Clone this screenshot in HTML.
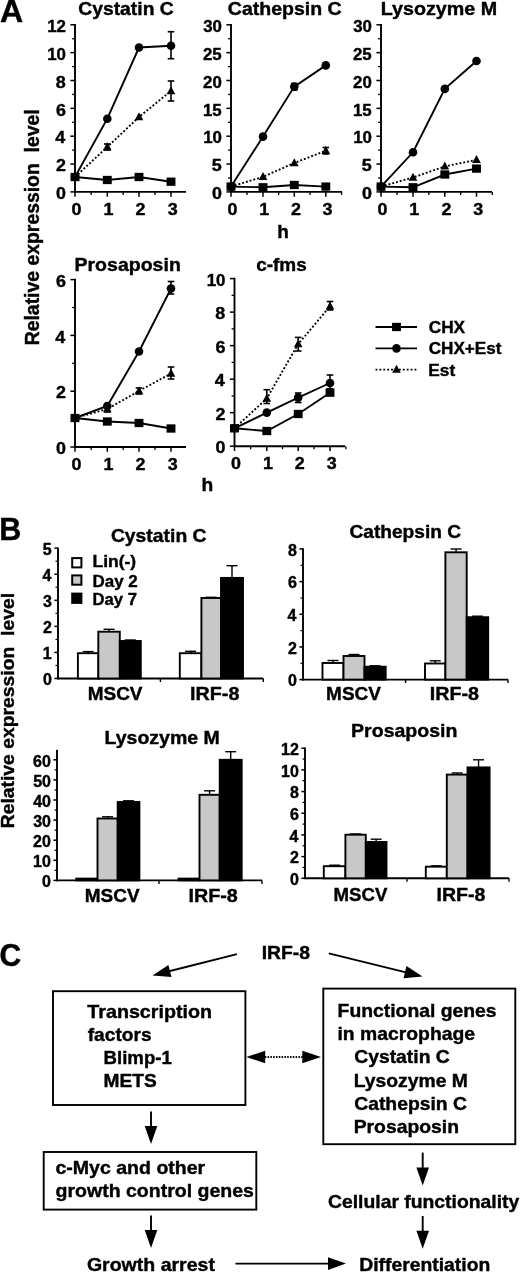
<!DOCTYPE html>
<html><head><meta charset="utf-8"><title>Figure</title>
<style>html,body{margin:0;padding:0;background:#fff}svg{display:block}text{fill:#000;stroke:#000;stroke-width:0.4px;font-family:"Liberation Sans",sans-serif;font-weight:bold}</style></head><body>
<svg width="520" height="1273" viewBox="0 0 520 1273" >
<rect width="520" height="1273" fill="#fff"/>
<text transform="translate(0.1,22.2) scale(1.02,1)" font-size="31.5" >A</text>
<text transform="translate(-0.8,540.2) scale(0.97,1)" font-size="31.5" >B</text>
<text transform="translate(-0.6,966.4) scale(0.94,1)" font-size="32" >C</text>
<line x1="75" y1="24.0" x2="75" y2="192.7" stroke="#000" stroke-width="1.9" />
<line x1="74.2" y1="191.9" x2="186" y2="191.9" stroke="#000" stroke-width="1.9" />
<line x1="70.4" y1="191.9" x2="75" y2="191.9" stroke="#000" stroke-width="1.5" />
<text transform="translate(56.0,199.1) scale(1.03,1)" font-size="17.4" >0</text>
<line x1="72.1" y1="177.97" x2="75" y2="177.97" stroke="#000" stroke-width="1.3" />
<line x1="70.4" y1="164.05" x2="75" y2="164.05" stroke="#000" stroke-width="1.5" />
<text transform="translate(56.0,171.2) scale(1.03,1)" font-size="17.4" >2</text>
<line x1="72.1" y1="150.12" x2="75" y2="150.12" stroke="#000" stroke-width="1.3" />
<line x1="70.4" y1="136.2" x2="75" y2="136.2" stroke="#000" stroke-width="1.5" />
<text transform="translate(55.3,143.4) scale(1.03,1)" font-size="17.4" >4</text>
<line x1="72.1" y1="122.28" x2="75" y2="122.28" stroke="#000" stroke-width="1.3" />
<line x1="70.4" y1="108.35" x2="75" y2="108.35" stroke="#000" stroke-width="1.5" />
<text transform="translate(55.9,115.6) scale(1.03,1)" font-size="17.4" >6</text>
<line x1="72.1" y1="94.43" x2="75" y2="94.43" stroke="#000" stroke-width="1.3" />
<line x1="70.4" y1="80.5" x2="75" y2="80.5" stroke="#000" stroke-width="1.5" />
<text transform="translate(55.8,87.7) scale(1.03,1)" font-size="17.4" >8</text>
<line x1="72.1" y1="66.58" x2="75" y2="66.58" stroke="#000" stroke-width="1.3" />
<line x1="70.4" y1="52.65" x2="75" y2="52.65" stroke="#000" stroke-width="1.5" />
<text transform="translate(47.2,59.9) scale(0.97,1)" font-size="17.4" >10</text>
<line x1="72.1" y1="38.73" x2="75" y2="38.73" stroke="#000" stroke-width="1.3" />
<line x1="70.4" y1="24.8" x2="75" y2="24.8" stroke="#000" stroke-width="1.5" />
<text transform="translate(47.2,32.0) scale(0.97,1)" font-size="17.4" >12</text>
<line x1="75" y1="191.9" x2="75" y2="196.7" stroke="#000" stroke-width="1.5" />
<text transform="translate(71.5,214.9) scale(1.03,1)" font-size="17.4" >0</text>
<line x1="91.15" y1="191.9" x2="91.15" y2="194.9" stroke="#000" stroke-width="1.3" />
<line x1="107.3" y1="191.9" x2="107.3" y2="196.7" stroke="#000" stroke-width="1.5" />
<text transform="translate(103.5,214.9) scale(1.03,1)" font-size="17.4" >1</text>
<line x1="123.15" y1="191.9" x2="123.15" y2="194.9" stroke="#000" stroke-width="1.3" />
<line x1="139" y1="191.9" x2="139" y2="196.7" stroke="#000" stroke-width="1.5" />
<text transform="translate(135.6,214.9) scale(1.03,1)" font-size="17.4" >2</text>
<line x1="155.0" y1="191.9" x2="155.0" y2="194.9" stroke="#000" stroke-width="1.3" />
<line x1="171" y1="191.9" x2="171" y2="196.7" stroke="#000" stroke-width="1.5" />
<text transform="translate(167.7,214.9) scale(1.03,1)" font-size="17.4" >3</text>
<text transform="translate(78.2,15.2) scale(1.04,1)" font-size="18.6" >Cystatin C</text>
<polyline points="75,177 107.3,147 139,117 171,91" fill="none" stroke="#000" stroke-width="1.9" stroke-dasharray="1.9 2"/>
<line x1="107.3" y1="144" x2="107.3" y2="150" stroke="#000" stroke-width="1.6" />
<line x1="104.0" y1="144" x2="110.6" y2="144" stroke="#000" stroke-width="1.6" />
<line x1="104.0" y1="150" x2="110.6" y2="150" stroke="#000" stroke-width="1.6" />
<line x1="171" y1="81" x2="171" y2="101" stroke="#000" stroke-width="1.6" />
<line x1="167.7" y1="81" x2="174.3" y2="81" stroke="#000" stroke-width="1.6" />
<line x1="167.7" y1="101" x2="174.3" y2="101" stroke="#000" stroke-width="1.6" />
<polygon points="75,172.2 79.3,180.2 70.7,180.2" fill="#000"/>
<polygon points="107.3,142.2 111.6,150.2 103.0,150.2" fill="#000"/>
<polygon points="139,112.2 143.3,120.2 134.7,120.2" fill="#000"/>
<polygon points="171,86.2 175.3,94.2 166.7,94.2" fill="#000"/>
<polyline points="75,177 107.3,180 139,177 171,181.7" fill="none" stroke="#000" stroke-width="1.9"/>
<rect x="70.55" y="172.85" width="8.9" height="8.3" fill="#000"/>
<rect x="102.85" y="175.85" width="8.9" height="8.3" fill="#000"/>
<rect x="134.55" y="172.85" width="8.9" height="8.3" fill="#000"/>
<rect x="166.55" y="177.55" width="8.9" height="8.3" fill="#000"/>
<polyline points="75,177 107.3,118.7 139,47.5 171,45.7" fill="none" stroke="#000" stroke-width="1.9"/>
<line x1="171" y1="31.7" x2="171" y2="58.7" stroke="#000" stroke-width="1.6" />
<line x1="167.7" y1="31.7" x2="174.3" y2="31.7" stroke="#000" stroke-width="1.6" />
<line x1="167.7" y1="58.7" x2="174.3" y2="58.7" stroke="#000" stroke-width="1.6" />
<circle cx="75" cy="177" r="4.3" fill="#000"/>
<circle cx="107.3" cy="118.7" r="4.3" fill="#000"/>
<circle cx="139" cy="47.5" r="4.3" fill="#000"/>
<circle cx="171" cy="45.7" r="4.3" fill="#000"/>
<line x1="231" y1="24.0" x2="231" y2="192.7" stroke="#000" stroke-width="1.9" />
<line x1="230.2" y1="191.9" x2="342" y2="191.9" stroke="#000" stroke-width="1.9" />
<line x1="226.4" y1="191.9" x2="231" y2="191.9" stroke="#000" stroke-width="1.5" />
<text transform="translate(212.0,199.1) scale(1.03,1)" font-size="17.4" >0</text>
<line x1="228.1" y1="177.97" x2="231" y2="177.97" stroke="#000" stroke-width="1.3" />
<line x1="226.4" y1="164.05" x2="231" y2="164.05" stroke="#000" stroke-width="1.5" />
<text transform="translate(211.7,171.2) scale(1.03,1)" font-size="17.4" >5</text>
<line x1="228.1" y1="150.12" x2="231" y2="150.12" stroke="#000" stroke-width="1.3" />
<line x1="226.4" y1="136.2" x2="231" y2="136.2" stroke="#000" stroke-width="1.5" />
<text transform="translate(203.2,143.4) scale(0.97,1)" font-size="17.4" >10</text>
<line x1="228.1" y1="122.28" x2="231" y2="122.28" stroke="#000" stroke-width="1.3" />
<line x1="226.4" y1="108.35" x2="231" y2="108.35" stroke="#000" stroke-width="1.5" />
<text transform="translate(202.9,115.6) scale(0.97,1)" font-size="17.4" >15</text>
<line x1="228.1" y1="94.43" x2="231" y2="94.43" stroke="#000" stroke-width="1.3" />
<line x1="226.4" y1="80.5" x2="231" y2="80.5" stroke="#000" stroke-width="1.5" />
<text transform="translate(203.1,87.7) scale(0.97,1)" font-size="17.4" >20</text>
<line x1="228.1" y1="66.58" x2="231" y2="66.58" stroke="#000" stroke-width="1.3" />
<line x1="226.4" y1="52.65" x2="231" y2="52.65" stroke="#000" stroke-width="1.5" />
<text transform="translate(202.9,59.9) scale(0.97,1)" font-size="17.4" >25</text>
<line x1="228.1" y1="38.73" x2="231" y2="38.73" stroke="#000" stroke-width="1.3" />
<line x1="226.4" y1="24.8" x2="231" y2="24.8" stroke="#000" stroke-width="1.5" />
<text transform="translate(203.2,32.0) scale(0.97,1)" font-size="17.4" >30</text>
<line x1="231" y1="191.9" x2="231" y2="196.7" stroke="#000" stroke-width="1.5" />
<text transform="translate(227.5,214.9) scale(1.03,1)" font-size="17.4" >0</text>
<line x1="247.0" y1="191.9" x2="247.0" y2="194.9" stroke="#000" stroke-width="1.3" />
<line x1="263" y1="191.9" x2="263" y2="196.7" stroke="#000" stroke-width="1.5" />
<text transform="translate(259.2,214.9) scale(1.03,1)" font-size="17.4" >1</text>
<line x1="278.65" y1="191.9" x2="278.65" y2="194.9" stroke="#000" stroke-width="1.3" />
<line x1="294.3" y1="191.9" x2="294.3" y2="196.7" stroke="#000" stroke-width="1.5" />
<text transform="translate(290.9,214.9) scale(1.03,1)" font-size="17.4" >2</text>
<line x1="310.05" y1="191.9" x2="310.05" y2="194.9" stroke="#000" stroke-width="1.3" />
<line x1="325.8" y1="191.9" x2="325.8" y2="196.7" stroke="#000" stroke-width="1.5" />
<text transform="translate(322.5,214.9) scale(1.03,1)" font-size="17.4" >3</text>
<line x1="341.55" y1="191.9" x2="341.55" y2="194.9" stroke="#000" stroke-width="1.3" />
<text transform="translate(227.8,15.2) scale(1.05,1)" font-size="18.6" >Cathepsin C</text>
<polyline points="231,186.6 263,176.8 294.3,163 325.8,150.7" fill="none" stroke="#000" stroke-width="1.9" stroke-dasharray="1.9 2"/>
<line x1="325.8" y1="147.5" x2="325.8" y2="154" stroke="#000" stroke-width="1.6" />
<line x1="322.5" y1="147.5" x2="329.1" y2="147.5" stroke="#000" stroke-width="1.6" />
<line x1="322.5" y1="154" x2="329.1" y2="154" stroke="#000" stroke-width="1.6" />
<polygon points="231,181.8 235.3,189.8 226.7,189.8" fill="#000"/>
<polygon points="263,172.0 267.3,180.0 258.7,180.0" fill="#000"/>
<polygon points="294.3,158.2 298.6,166.2 290.0,166.2" fill="#000"/>
<polygon points="325.8,145.9 330.1,153.9 321.5,153.9" fill="#000"/>
<polyline points="231,186.6 263,187.3 294.3,185 325.8,186.6" fill="none" stroke="#000" stroke-width="1.9"/>
<rect x="226.55" y="182.45" width="8.9" height="8.3" fill="#000"/>
<rect x="258.55" y="183.15" width="8.9" height="8.3" fill="#000"/>
<rect x="289.85" y="180.85" width="8.9" height="8.3" fill="#000"/>
<rect x="321.35" y="182.45" width="8.9" height="8.3" fill="#000"/>
<polyline points="231,186.6 263,136.6 294.3,86.6 325.8,65.4" fill="none" stroke="#000" stroke-width="1.9"/>
<line x1="294.3" y1="83.5" x2="294.3" y2="90" stroke="#000" stroke-width="1.6" />
<line x1="291.0" y1="83.5" x2="297.6" y2="83.5" stroke="#000" stroke-width="1.6" />
<line x1="291.0" y1="90" x2="297.6" y2="90" stroke="#000" stroke-width="1.6" />
<circle cx="231" cy="186.6" r="4.3" fill="#000"/>
<circle cx="263" cy="136.6" r="4.3" fill="#000"/>
<circle cx="294.3" cy="86.6" r="4.3" fill="#000"/>
<circle cx="325.8" cy="65.4" r="4.3" fill="#000"/>
<line x1="381" y1="24.0" x2="381" y2="192.7" stroke="#000" stroke-width="1.9" />
<line x1="380.2" y1="191.9" x2="492" y2="191.9" stroke="#000" stroke-width="1.9" />
<line x1="376.4" y1="191.9" x2="381" y2="191.9" stroke="#000" stroke-width="1.5" />
<text transform="translate(362.0,199.1) scale(1.03,1)" font-size="17.4" >0</text>
<line x1="378.1" y1="177.97" x2="381" y2="177.97" stroke="#000" stroke-width="1.3" />
<line x1="376.4" y1="164.05" x2="381" y2="164.05" stroke="#000" stroke-width="1.5" />
<text transform="translate(361.7,171.2) scale(1.03,1)" font-size="17.4" >5</text>
<line x1="378.1" y1="150.12" x2="381" y2="150.12" stroke="#000" stroke-width="1.3" />
<line x1="376.4" y1="136.2" x2="381" y2="136.2" stroke="#000" stroke-width="1.5" />
<text transform="translate(353.2,143.4) scale(0.97,1)" font-size="17.4" >10</text>
<line x1="378.1" y1="122.28" x2="381" y2="122.28" stroke="#000" stroke-width="1.3" />
<line x1="376.4" y1="108.35" x2="381" y2="108.35" stroke="#000" stroke-width="1.5" />
<text transform="translate(352.9,115.6) scale(0.97,1)" font-size="17.4" >15</text>
<line x1="378.1" y1="94.43" x2="381" y2="94.43" stroke="#000" stroke-width="1.3" />
<line x1="376.4" y1="80.5" x2="381" y2="80.5" stroke="#000" stroke-width="1.5" />
<text transform="translate(353.1,87.7) scale(0.97,1)" font-size="17.4" >20</text>
<line x1="378.1" y1="66.58" x2="381" y2="66.58" stroke="#000" stroke-width="1.3" />
<line x1="376.4" y1="52.65" x2="381" y2="52.65" stroke="#000" stroke-width="1.5" />
<text transform="translate(352.9,59.9) scale(0.97,1)" font-size="17.4" >25</text>
<line x1="378.1" y1="38.73" x2="381" y2="38.73" stroke="#000" stroke-width="1.3" />
<line x1="376.4" y1="24.8" x2="381" y2="24.8" stroke="#000" stroke-width="1.5" />
<text transform="translate(353.2,32.0) scale(0.97,1)" font-size="17.4" >30</text>
<line x1="381" y1="191.9" x2="381" y2="196.7" stroke="#000" stroke-width="1.5" />
<text transform="translate(377.5,214.9) scale(1.03,1)" font-size="17.4" >0</text>
<line x1="397.0" y1="191.9" x2="397.0" y2="194.9" stroke="#000" stroke-width="1.3" />
<line x1="413" y1="191.9" x2="413" y2="196.7" stroke="#000" stroke-width="1.5" />
<text transform="translate(409.2,214.9) scale(1.03,1)" font-size="17.4" >1</text>
<line x1="428.9" y1="191.9" x2="428.9" y2="194.9" stroke="#000" stroke-width="1.3" />
<line x1="444.8" y1="191.9" x2="444.8" y2="196.7" stroke="#000" stroke-width="1.5" />
<text transform="translate(441.4,214.9) scale(1.03,1)" font-size="17.4" >2</text>
<line x1="460.65" y1="191.9" x2="460.65" y2="194.9" stroke="#000" stroke-width="1.3" />
<line x1="476.5" y1="191.9" x2="476.5" y2="196.7" stroke="#000" stroke-width="1.5" />
<text transform="translate(473.2,214.9) scale(1.03,1)" font-size="17.4" >3</text>
<line x1="492.35" y1="191.9" x2="492.35" y2="194.9" stroke="#000" stroke-width="1.3" />
<text transform="translate(380.7,15.2) scale(1.06,1)" font-size="18.6" >Lysozyme M</text>
<polyline points="381,186.6 413,187.3 444.8,174.5 476.5,168.6" fill="none" stroke="#000" stroke-width="1.9"/>
<rect x="376.55" y="182.45" width="8.9" height="8.3" fill="#000"/>
<rect x="408.55" y="183.15" width="8.9" height="8.3" fill="#000"/>
<rect x="440.35" y="170.35" width="8.9" height="8.3" fill="#000"/>
<rect x="472.05" y="164.45" width="8.9" height="8.3" fill="#000"/>
<polyline points="381,186.6 413,177.5 444.8,166.4 476.5,159.8" fill="none" stroke="#000" stroke-width="1.9" stroke-dasharray="1.9 2"/>
<polygon points="381,181.8 385.3,189.8 376.7,189.8" fill="#000"/>
<polygon points="413,172.7 417.3,180.7 408.7,180.7" fill="#000"/>
<polygon points="444.8,161.6 449.1,169.6 440.5,169.6" fill="#000"/>
<polygon points="476.5,155.0 480.8,163.0 472.2,163.0" fill="#000"/>
<polyline points="381,186.6 413,152.3 444.8,88.9 476.5,61" fill="none" stroke="#000" stroke-width="1.9"/>
<circle cx="381" cy="186.6" r="4.3" fill="#000"/>
<circle cx="413" cy="152.3" r="4.3" fill="#000"/>
<circle cx="444.8" cy="88.9" r="4.3" fill="#000"/>
<circle cx="476.5" cy="61" r="4.3" fill="#000"/>
<text transform="translate(277.3,237.6) scale(0.99,1)" font-size="19.2" >h</text>
<line x1="75" y1="278.8" x2="75" y2="447.8" stroke="#000" stroke-width="1.9" />
<line x1="74.2" y1="447" x2="186" y2="447" stroke="#000" stroke-width="1.9" />
<line x1="70.4" y1="447.0" x2="75" y2="447.0" stroke="#000" stroke-width="1.5" />
<text transform="translate(56.0,454.2) scale(1.03,1)" font-size="17.4" >0</text>
<line x1="72.1" y1="419.1" x2="75" y2="419.1" stroke="#000" stroke-width="1.3" />
<line x1="70.4" y1="391.2" x2="75" y2="391.2" stroke="#000" stroke-width="1.5" />
<text transform="translate(56.0,398.4) scale(1.03,1)" font-size="17.4" >2</text>
<line x1="72.1" y1="363.3" x2="75" y2="363.3" stroke="#000" stroke-width="1.3" />
<line x1="70.4" y1="335.4" x2="75" y2="335.4" stroke="#000" stroke-width="1.5" />
<text transform="translate(55.3,342.6) scale(1.03,1)" font-size="17.4" >4</text>
<line x1="72.1" y1="307.5" x2="75" y2="307.5" stroke="#000" stroke-width="1.3" />
<line x1="70.4" y1="279.6" x2="75" y2="279.6" stroke="#000" stroke-width="1.5" />
<text transform="translate(55.9,286.8) scale(1.03,1)" font-size="17.4" >6</text>
<line x1="75" y1="447" x2="75" y2="451.8" stroke="#000" stroke-width="1.5" />
<text transform="translate(71.5,470) scale(1.03,1)" font-size="17.4" >0</text>
<line x1="91.15" y1="447" x2="91.15" y2="450" stroke="#000" stroke-width="1.3" />
<line x1="107.3" y1="447" x2="107.3" y2="451.8" stroke="#000" stroke-width="1.5" />
<text transform="translate(103.5,470) scale(1.03,1)" font-size="17.4" >1</text>
<line x1="123.15" y1="447" x2="123.15" y2="450" stroke="#000" stroke-width="1.3" />
<line x1="139" y1="447" x2="139" y2="451.8" stroke="#000" stroke-width="1.5" />
<text transform="translate(135.6,470) scale(1.03,1)" font-size="17.4" >2</text>
<line x1="155.0" y1="447" x2="155.0" y2="450" stroke="#000" stroke-width="1.3" />
<line x1="171" y1="447" x2="171" y2="451.8" stroke="#000" stroke-width="1.5" />
<text transform="translate(167.7,470) scale(1.03,1)" font-size="17.4" >3</text>
<text transform="translate(74.5,270.8) scale(1.05,1)" font-size="18.6" >Prosaposin</text>
<polyline points="75,418 107.3,409 139,391 171,373.5" fill="none" stroke="#000" stroke-width="1.9" stroke-dasharray="1.9 2"/>
<line x1="107.3" y1="406" x2="107.3" y2="412" stroke="#000" stroke-width="1.6" />
<line x1="104.0" y1="406" x2="110.6" y2="406" stroke="#000" stroke-width="1.6" />
<line x1="104.0" y1="412" x2="110.6" y2="412" stroke="#000" stroke-width="1.6" />
<line x1="139" y1="388" x2="139" y2="394" stroke="#000" stroke-width="1.6" />
<line x1="135.7" y1="388" x2="142.3" y2="388" stroke="#000" stroke-width="1.6" />
<line x1="135.7" y1="394" x2="142.3" y2="394" stroke="#000" stroke-width="1.6" />
<line x1="171" y1="367" x2="171" y2="379" stroke="#000" stroke-width="1.6" />
<line x1="167.7" y1="367" x2="174.3" y2="367" stroke="#000" stroke-width="1.6" />
<line x1="167.7" y1="379" x2="174.3" y2="379" stroke="#000" stroke-width="1.6" />
<polygon points="75,413.2 79.3,421.2 70.7,421.2" fill="#000"/>
<polygon points="107.3,404.2 111.6,412.2 103.0,412.2" fill="#000"/>
<polygon points="139,386.2 143.3,394.2 134.7,394.2" fill="#000"/>
<polygon points="171,368.7 175.3,376.7 166.7,376.7" fill="#000"/>
<polyline points="75,418 107.3,421.5 139,423 171,428.5" fill="none" stroke="#000" stroke-width="1.9"/>
<rect x="70.55" y="413.85" width="8.9" height="8.3" fill="#000"/>
<rect x="102.85" y="417.35" width="8.9" height="8.3" fill="#000"/>
<rect x="134.55" y="418.85" width="8.9" height="8.3" fill="#000"/>
<rect x="166.55" y="424.35" width="8.9" height="8.3" fill="#000"/>
<polyline points="75,418 107.3,406 139,351.5 171,288.5" fill="none" stroke="#000" stroke-width="1.9"/>
<line x1="171" y1="281.5" x2="171" y2="294" stroke="#000" stroke-width="1.6" />
<line x1="167.7" y1="281.5" x2="174.3" y2="281.5" stroke="#000" stroke-width="1.6" />
<line x1="167.7" y1="294" x2="174.3" y2="294" stroke="#000" stroke-width="1.6" />
<circle cx="75" cy="418" r="4.3" fill="#000"/>
<circle cx="107.3" cy="406" r="4.3" fill="#000"/>
<circle cx="139" cy="351.5" r="4.3" fill="#000"/>
<circle cx="171" cy="288.5" r="4.3" fill="#000"/>
<line x1="234.5" y1="277.8" x2="234.5" y2="447.0" stroke="#000" stroke-width="1.9" />
<line x1="233.7" y1="446.2" x2="345" y2="446.2" stroke="#000" stroke-width="1.9" />
<line x1="229.9" y1="446.2" x2="234.5" y2="446.2" stroke="#000" stroke-width="1.5" />
<text transform="translate(215.5,453.4) scale(1.03,1)" font-size="17.4" >0</text>
<line x1="231.6" y1="429.44" x2="234.5" y2="429.44" stroke="#000" stroke-width="1.3" />
<line x1="229.9" y1="412.68" x2="234.5" y2="412.68" stroke="#000" stroke-width="1.5" />
<text transform="translate(215.5,419.9) scale(1.03,1)" font-size="17.4" >2</text>
<line x1="231.6" y1="395.92" x2="234.5" y2="395.92" stroke="#000" stroke-width="1.3" />
<line x1="229.9" y1="379.16" x2="234.5" y2="379.16" stroke="#000" stroke-width="1.5" />
<text transform="translate(214.8,386.4) scale(1.03,1)" font-size="17.4" >4</text>
<line x1="231.6" y1="362.4" x2="234.5" y2="362.4" stroke="#000" stroke-width="1.3" />
<line x1="229.9" y1="345.64" x2="234.5" y2="345.64" stroke="#000" stroke-width="1.5" />
<text transform="translate(215.4,352.8) scale(1.03,1)" font-size="17.4" >6</text>
<line x1="231.6" y1="328.88" x2="234.5" y2="328.88" stroke="#000" stroke-width="1.3" />
<line x1="229.9" y1="312.12" x2="234.5" y2="312.12" stroke="#000" stroke-width="1.5" />
<text transform="translate(215.3,319.3) scale(1.03,1)" font-size="17.4" >8</text>
<line x1="231.6" y1="295.36" x2="234.5" y2="295.36" stroke="#000" stroke-width="1.3" />
<line x1="229.9" y1="278.6" x2="234.5" y2="278.6" stroke="#000" stroke-width="1.5" />
<text transform="translate(206.7,285.8) scale(0.97,1)" font-size="17.4" >10</text>
<line x1="234.5" y1="446.2" x2="234.5" y2="451.0" stroke="#000" stroke-width="1.5" />
<text transform="translate(231.0,469.2) scale(1.03,1)" font-size="17.4" >0</text>
<line x1="250.65" y1="446.2" x2="250.65" y2="449.2" stroke="#000" stroke-width="1.3" />
<line x1="266.8" y1="446.2" x2="266.8" y2="451.0" stroke="#000" stroke-width="1.5" />
<text transform="translate(263.0,469.2) scale(1.03,1)" font-size="17.4" >1</text>
<line x1="282.5" y1="446.2" x2="282.5" y2="449.2" stroke="#000" stroke-width="1.3" />
<line x1="298.2" y1="446.2" x2="298.2" y2="451.0" stroke="#000" stroke-width="1.5" />
<text transform="translate(294.8,469.2) scale(1.03,1)" font-size="17.4" >2</text>
<line x1="314.1" y1="446.2" x2="314.1" y2="449.2" stroke="#000" stroke-width="1.3" />
<line x1="330" y1="446.2" x2="330" y2="451.0" stroke="#000" stroke-width="1.5" />
<text transform="translate(326.7,469.2) scale(1.03,1)" font-size="17.4" >3</text>
<line x1="345.9" y1="446.2" x2="345.9" y2="449.2" stroke="#000" stroke-width="1.3" />
<text transform="translate(256.2,270.5) scale(1.02,1)" font-size="18.6" >c-fms</text>
<polyline points="234.5,428.3 266.8,398.5 298.2,344 330,306.4" fill="none" stroke="#000" stroke-width="1.9" stroke-dasharray="1.9 2"/>
<line x1="266.8" y1="389.7" x2="266.8" y2="403.5" stroke="#000" stroke-width="1.6" />
<line x1="263.5" y1="389.7" x2="270.1" y2="389.7" stroke="#000" stroke-width="1.6" />
<line x1="263.5" y1="403.5" x2="270.1" y2="403.5" stroke="#000" stroke-width="1.6" />
<line x1="298.2" y1="337.4" x2="298.2" y2="351" stroke="#000" stroke-width="1.6" />
<line x1="294.9" y1="337.4" x2="301.5" y2="337.4" stroke="#000" stroke-width="1.6" />
<line x1="294.9" y1="351" x2="301.5" y2="351" stroke="#000" stroke-width="1.6" />
<line x1="330" y1="301.5" x2="330" y2="310" stroke="#000" stroke-width="1.6" />
<line x1="326.7" y1="301.5" x2="333.3" y2="301.5" stroke="#000" stroke-width="1.6" />
<line x1="326.7" y1="310" x2="333.3" y2="310" stroke="#000" stroke-width="1.6" />
<polygon points="234.5,423.5 238.8,431.5 230.2,431.5" fill="#000"/>
<polygon points="266.8,393.7 271.1,401.7 262.5,401.7" fill="#000"/>
<polygon points="298.2,339.2 302.5,347.2 293.9,347.2" fill="#000"/>
<polygon points="330,301.6 334.3,309.6 325.7,309.6" fill="#000"/>
<polyline points="234.5,428.3 266.8,431 298.2,414 330,392.7" fill="none" stroke="#000" stroke-width="1.9"/>
<rect x="230.05" y="424.15" width="8.9" height="8.3" fill="#000"/>
<rect x="262.35" y="426.85" width="8.9" height="8.3" fill="#000"/>
<rect x="293.75" y="409.85" width="8.9" height="8.3" fill="#000"/>
<rect x="325.55" y="388.55" width="8.9" height="8.3" fill="#000"/>
<polyline points="234.5,428.3 266.8,412.6 298.2,397.6 330,383" fill="none" stroke="#000" stroke-width="1.9"/>
<line x1="298.2" y1="393" x2="298.2" y2="402.5" stroke="#000" stroke-width="1.6" />
<line x1="294.9" y1="393" x2="301.5" y2="393" stroke="#000" stroke-width="1.6" />
<line x1="294.9" y1="402.5" x2="301.5" y2="402.5" stroke="#000" stroke-width="1.6" />
<line x1="330" y1="375" x2="330" y2="388.7" stroke="#000" stroke-width="1.6" />
<line x1="326.7" y1="375" x2="333.3" y2="375" stroke="#000" stroke-width="1.6" />
<line x1="326.7" y1="388.7" x2="333.3" y2="388.7" stroke="#000" stroke-width="1.6" />
<circle cx="234.5" cy="428.3" r="4.3" fill="#000"/>
<circle cx="266.8" cy="412.6" r="4.3" fill="#000"/>
<circle cx="298.2" cy="397.6" r="4.3" fill="#000"/>
<circle cx="330" cy="383" r="4.3" fill="#000"/>
<text x="201.6" y="490.7" font-size="19.2" >h</text>
<line x1="375.5" y1="327" x2="417" y2="327" stroke="#000" stroke-width="1.9"/>
<rect x="392.05" y="322.85" width="8.9" height="8.3" fill="#000"/>
<text transform="translate(428.7,332.9) scale(1.04,1)" font-size="16.6" >CHX</text>
<line x1="375.5" y1="348.4" x2="417" y2="348.4" stroke="#000" stroke-width="1.9"/>
<circle cx="396.5" cy="348.4" r="4.3" fill="#000"/>
<text transform="translate(428.7,354.3) scale(1.03,1)" font-size="16.6" >CHX+Est</text>
<line x1="375.5" y1="369.6" x2="417" y2="369.6" stroke="#000" stroke-width="1.9" stroke-dasharray="1.9 2"/>
<polygon points="396.5,364.8 400.8,372.8 392.2,372.8" fill="#000"/>
<text transform="translate(428.3,375.5) scale(1.04,1)" font-size="16.6" >Est</text>
<text transform="translate(38.6,345.3) rotate(-90) scale(0.97,1)" font-size="20" xml:space="preserve">Relative expression  level</text>
<text transform="translate(14.4,828.3) rotate(-90) scale(1.04,1)" font-size="18.6" xml:space="preserve">Relative expression  level</text>
<line x1="58" y1="547.4" x2="58" y2="679.3" stroke="#000" stroke-width="1.9" />
<line x1="57.2" y1="678.5" x2="263.3" y2="678.5" stroke="#000" stroke-width="1.9" />
<line x1="54.4" y1="678.5" x2="58" y2="678.5" stroke="#000" stroke-width="1.5" />
<text x="43.1" y="685.3" font-size="16.0" >0</text>
<line x1="55.5" y1="665.47" x2="58" y2="665.47" stroke="#000" stroke-width="1.2" />
<line x1="54.4" y1="652.44" x2="58" y2="652.44" stroke="#000" stroke-width="1.5" />
<text x="42.8" y="659.2" font-size="16.0" >1</text>
<line x1="55.5" y1="639.41" x2="58" y2="639.41" stroke="#000" stroke-width="1.2" />
<line x1="54.4" y1="626.38" x2="58" y2="626.38" stroke="#000" stroke-width="1.5" />
<text x="43.0" y="633.2" font-size="16.0" >2</text>
<line x1="55.5" y1="613.35" x2="58" y2="613.35" stroke="#000" stroke-width="1.2" />
<line x1="54.4" y1="600.32" x2="58" y2="600.32" stroke="#000" stroke-width="1.5" />
<text x="43.0" y="607.1" font-size="16.0" >3</text>
<line x1="55.5" y1="587.29" x2="58" y2="587.29" stroke="#000" stroke-width="1.2" />
<line x1="54.4" y1="574.26" x2="58" y2="574.26" stroke="#000" stroke-width="1.5" />
<text x="42.5" y="581.1" font-size="16.0" >4</text>
<line x1="55.5" y1="561.23" x2="58" y2="561.23" stroke="#000" stroke-width="1.2" />
<line x1="54.4" y1="548.2" x2="58" y2="548.2" stroke="#000" stroke-width="1.5" />
<text x="42.8" y="555.0" font-size="16.0" >5</text>
<line x1="160.4" y1="678.5" x2="160.4" y2="682.0" stroke="#000" stroke-width="1.4" />
<line x1="263.3" y1="678.5" x2="263.3" y2="682.0" stroke="#000" stroke-width="1.4" />
<line x1="88.2" y1="651.6" x2="88.2" y2="653.2" stroke="#000" stroke-width="1.4" />
<line x1="82.7" y1="651.6" x2="93.7" y2="651.6" stroke="#000" stroke-width="1.4" />
<rect x="77.9" y="653.2" width="20.6" height="25.3" fill="#fff" stroke="#000" stroke-width="1.9"/>
<line x1="109.05" y1="629.3" x2="109.05" y2="631.7" stroke="#000" stroke-width="1.4" />
<line x1="103.55" y1="629.3" x2="114.55" y2="629.3" stroke="#000" stroke-width="1.4" />
<rect x="98.3" y="631.7" width="21.5" height="46.8" fill="#c8c8c8" stroke="#000" stroke-width="1.9"/>
<line x1="130.3" y1="640" x2="130.3" y2="641" stroke="#000" stroke-width="1.4" />
<line x1="124.8" y1="640" x2="135.8" y2="640" stroke="#000" stroke-width="1.4" />
<rect x="119.8" y="641" width="21.0" height="37.5" fill="#000" stroke="#000" stroke-width="1.9"/>
<line x1="190.6" y1="651.3" x2="190.6" y2="653.2" stroke="#000" stroke-width="1.4" />
<line x1="185.1" y1="651.3" x2="196.1" y2="651.3" stroke="#000" stroke-width="1.4" />
<rect x="179.8" y="653.2" width="21.6" height="25.3" fill="#fff" stroke="#000" stroke-width="1.9"/>
<line x1="211.2" y1="597.3" x2="211.2" y2="598" stroke="#000" stroke-width="1.4" />
<line x1="205.7" y1="597.3" x2="216.7" y2="597.3" stroke="#000" stroke-width="1.4" />
<rect x="201.4" y="598" width="19.6" height="80.5" fill="#c8c8c8" stroke="#000" stroke-width="1.9"/>
<line x1="232.0" y1="565.7" x2="232.0" y2="577.9" stroke="#000" stroke-width="1.4" />
<line x1="226.5" y1="565.7" x2="237.5" y2="565.7" stroke="#000" stroke-width="1.4" />
<rect x="221" y="577.9" width="22" height="100.6" fill="#000" stroke="#000" stroke-width="1.9"/>
<text transform="translate(110.9,541.5) scale(1.04,1)" font-size="18.6" >Cystatin C</text>
<text transform="translate(87.7,699.8) scale(1.02,1)" font-size="18.6" >MSCV</text>
<text transform="translate(190.1,699.8) scale(1.06,1)" font-size="18.6" >IRF-8</text>
<rect x="72.2" y="558.1" width="9.2" height="9.3" fill="#fff" stroke="#000" stroke-width="2"/>
<text transform="translate(92.6,567.2) scale(1.07,1)" font-size="16.3" >Lin(-)</text>
<rect x="72.2" y="575.4" width="9.2" height="9.3" fill="#c8c8c8" stroke="#000" stroke-width="2"/>
<text transform="translate(92.6,586.5) scale(1.04,1)" font-size="16.3" >Day 2</text>
<rect x="72.2" y="593.6" width="9.2" height="9.3" fill="#000" stroke="#000" stroke-width="2"/>
<text transform="translate(92.6,604.7) scale(1.02,1)" font-size="16.3" >Day 7</text>
<line x1="303" y1="548.2" x2="303" y2="680.4" stroke="#000" stroke-width="1.9" />
<line x1="302.2" y1="679.6" x2="508" y2="679.6" stroke="#000" stroke-width="1.9" />
<line x1="299.4" y1="679.6" x2="303" y2="679.6" stroke="#000" stroke-width="1.5" />
<text x="288.1" y="686.4" font-size="16.0" >0</text>
<line x1="300.5" y1="663.27" x2="303" y2="663.27" stroke="#000" stroke-width="1.2" />
<line x1="299.4" y1="646.95" x2="303" y2="646.95" stroke="#000" stroke-width="1.5" />
<text x="288.0" y="653.8" font-size="16.0" >2</text>
<line x1="300.5" y1="630.62" x2="303" y2="630.62" stroke="#000" stroke-width="1.2" />
<line x1="299.4" y1="614.3" x2="303" y2="614.3" stroke="#000" stroke-width="1.5" />
<text x="287.5" y="621.1" font-size="16.0" >4</text>
<line x1="300.5" y1="597.97" x2="303" y2="597.97" stroke="#000" stroke-width="1.2" />
<line x1="299.4" y1="581.65" x2="303" y2="581.65" stroke="#000" stroke-width="1.5" />
<text x="287.9" y="588.4" font-size="16.0" >6</text>
<line x1="300.5" y1="565.32" x2="303" y2="565.32" stroke="#000" stroke-width="1.2" />
<line x1="299.4" y1="549.0" x2="303" y2="549.0" stroke="#000" stroke-width="1.5" />
<text x="287.9" y="555.8" font-size="16.0" >8</text>
<line x1="405.6" y1="679.6" x2="405.6" y2="683.1" stroke="#000" stroke-width="1.4" />
<line x1="508" y1="679.6" x2="508" y2="683.1" stroke="#000" stroke-width="1.4" />
<line x1="333.0" y1="660.5" x2="333.0" y2="663" stroke="#000" stroke-width="1.4" />
<line x1="327.5" y1="660.5" x2="338.5" y2="660.5" stroke="#000" stroke-width="1.4" />
<rect x="322.5" y="663" width="21.0" height="16.6" fill="#fff" stroke="#000" stroke-width="1.9"/>
<line x1="354.0" y1="654.5" x2="354.0" y2="656" stroke="#000" stroke-width="1.4" />
<line x1="348.5" y1="654.5" x2="359.5" y2="654.5" stroke="#000" stroke-width="1.4" />
<rect x="343.5" y="656" width="21.0" height="23.6" fill="#c8c8c8" stroke="#000" stroke-width="1.9"/>
<line x1="375.1" y1="665.8" x2="375.1" y2="666.7" stroke="#000" stroke-width="1.4" />
<line x1="369.6" y1="665.8" x2="380.6" y2="665.8" stroke="#000" stroke-width="1.4" />
<rect x="364.5" y="666.7" width="21.2" height="12.9" fill="#000" stroke="#000" stroke-width="1.9"/>
<line x1="435.2" y1="660.8" x2="435.2" y2="663.5" stroke="#000" stroke-width="1.4" />
<line x1="429.7" y1="660.8" x2="440.7" y2="660.8" stroke="#000" stroke-width="1.4" />
<rect x="425" y="663.5" width="20.4" height="16.1" fill="#fff" stroke="#000" stroke-width="1.9"/>
<line x1="456.05" y1="549" x2="456.05" y2="552.3" stroke="#000" stroke-width="1.4" />
<line x1="450.55" y1="549" x2="461.55" y2="549" stroke="#000" stroke-width="1.4" />
<rect x="445.4" y="552.3" width="21.3" height="127.3" fill="#c8c8c8" stroke="#000" stroke-width="1.9"/>
<line x1="477.45" y1="616.2" x2="477.45" y2="617.2" stroke="#000" stroke-width="1.4" />
<line x1="471.95" y1="616.2" x2="482.95" y2="616.2" stroke="#000" stroke-width="1.4" />
<rect x="466.7" y="617.2" width="21.5" height="62.4" fill="#000" stroke="#000" stroke-width="1.9"/>
<text transform="translate(349.4,537.7) scale(1.03,1)" font-size="18.6" >Cathepsin C</text>
<text transform="translate(326.1,699.8) scale(1.02,1)" font-size="18.6" >MSCV</text>
<text transform="translate(429.7,699.8) scale(1.06,1)" font-size="18.6" >IRF-8</text>
<line x1="57" y1="759.0" x2="57" y2="881.2" stroke="#000" stroke-width="1.9" />
<line x1="56.2" y1="880.4" x2="262" y2="880.4" stroke="#000" stroke-width="1.9" />
<line x1="53.4" y1="880.4" x2="57" y2="880.4" stroke="#000" stroke-width="1.5" />
<text x="42.1" y="887.2" font-size="16.0" >0</text>
<line x1="54.5" y1="870.35" x2="57" y2="870.35" stroke="#000" stroke-width="1.2" />
<line x1="53.4" y1="860.3" x2="57" y2="860.3" stroke="#000" stroke-width="1.5" />
<text x="33.1" y="867.1" font-size="16.0" >10</text>
<line x1="54.5" y1="850.25" x2="57" y2="850.25" stroke="#000" stroke-width="1.2" />
<line x1="53.4" y1="840.2" x2="57" y2="840.2" stroke="#000" stroke-width="1.5" />
<text x="33.1" y="847.0" font-size="16.0" >20</text>
<line x1="54.5" y1="830.15" x2="57" y2="830.15" stroke="#000" stroke-width="1.2" />
<line x1="53.4" y1="820.1" x2="57" y2="820.1" stroke="#000" stroke-width="1.5" />
<text x="33.2" y="826.9" font-size="16.0" >30</text>
<line x1="54.5" y1="810.05" x2="57" y2="810.05" stroke="#000" stroke-width="1.2" />
<line x1="53.4" y1="800.0" x2="57" y2="800.0" stroke="#000" stroke-width="1.5" />
<text x="33.2" y="806.8" font-size="16.0" >40</text>
<line x1="54.5" y1="789.95" x2="57" y2="789.95" stroke="#000" stroke-width="1.2" />
<line x1="53.4" y1="779.9" x2="57" y2="779.9" stroke="#000" stroke-width="1.5" />
<text x="33.2" y="786.7" font-size="16.0" >50</text>
<line x1="54.5" y1="769.85" x2="57" y2="769.85" stroke="#000" stroke-width="1.2" />
<line x1="53.4" y1="759.8" x2="57" y2="759.8" stroke="#000" stroke-width="1.5" />
<text x="33.1" y="766.6" font-size="16.0" >60</text>
<line x1="159" y1="880.4" x2="159" y2="883.9" stroke="#000" stroke-width="1.4" />
<line x1="262" y1="880.4" x2="262" y2="883.9" stroke="#000" stroke-width="1.4" />
<rect x="76.2" y="878.6" width="21.3" height="1.8" fill="#fff" stroke="#000" stroke-width="1.9"/>
<line x1="107.6" y1="816.8" x2="107.6" y2="818.5" stroke="#000" stroke-width="1.4" />
<line x1="102.1" y1="816.8" x2="113.1" y2="816.8" stroke="#000" stroke-width="1.4" />
<rect x="97.5" y="818.5" width="20.2" height="61.9" fill="#c8c8c8" stroke="#000" stroke-width="1.9"/>
<line x1="128.55" y1="800.8" x2="128.55" y2="802" stroke="#000" stroke-width="1.4" />
<line x1="123.05" y1="800.8" x2="134.05" y2="800.8" stroke="#000" stroke-width="1.4" />
<rect x="117.7" y="802" width="21.7" height="78.4" fill="#000" stroke="#000" stroke-width="1.9"/>
<rect x="178.5" y="878.6" width="21.0" height="1.8" fill="#fff" stroke="#000" stroke-width="1.9"/>
<line x1="209.6" y1="790.8" x2="209.6" y2="794.8" stroke="#000" stroke-width="1.4" />
<line x1="204.1" y1="790.8" x2="215.1" y2="790.8" stroke="#000" stroke-width="1.4" />
<rect x="199.5" y="794.8" width="20.2" height="85.6" fill="#c8c8c8" stroke="#000" stroke-width="1.9"/>
<line x1="230.7" y1="751.7" x2="230.7" y2="759.8" stroke="#000" stroke-width="1.4" />
<line x1="225.2" y1="751.7" x2="236.2" y2="751.7" stroke="#000" stroke-width="1.4" />
<rect x="219.7" y="759.8" width="22.0" height="120.6" fill="#000" stroke="#000" stroke-width="1.9"/>
<text transform="translate(104.5,743.7) scale(1.05,1)" font-size="18.6" >Lysozyme M</text>
<text transform="translate(84.8,901.7) scale(1.02,1)" font-size="18.6" >MSCV</text>
<text transform="translate(188.5,901.7) scale(1.06,1)" font-size="18.6" >IRF-8</text>
<line x1="57" y1="749.8" x2="57" y2="760" stroke="#000" stroke-width="1.9" />
<line x1="305" y1="747.4" x2="305" y2="879.1" stroke="#000" stroke-width="1.9" />
<line x1="304.2" y1="878.3" x2="509" y2="878.3" stroke="#000" stroke-width="1.9" />
<line x1="301.4" y1="878.3" x2="305" y2="878.3" stroke="#000" stroke-width="1.5" />
<text x="290.1" y="885.1" font-size="16.0" >0</text>
<line x1="302.5" y1="867.46" x2="305" y2="867.46" stroke="#000" stroke-width="1.2" />
<line x1="301.4" y1="856.62" x2="305" y2="856.62" stroke="#000" stroke-width="1.5" />
<text x="290.0" y="863.4" font-size="16.0" >2</text>
<line x1="302.5" y1="845.77" x2="305" y2="845.77" stroke="#000" stroke-width="1.2" />
<line x1="301.4" y1="834.93" x2="305" y2="834.93" stroke="#000" stroke-width="1.5" />
<text x="289.5" y="841.7" font-size="16.0" >4</text>
<line x1="302.5" y1="824.09" x2="305" y2="824.09" stroke="#000" stroke-width="1.2" />
<line x1="301.4" y1="813.25" x2="305" y2="813.25" stroke="#000" stroke-width="1.5" />
<text x="289.9" y="820.0" font-size="16.0" >6</text>
<line x1="302.5" y1="802.41" x2="305" y2="802.41" stroke="#000" stroke-width="1.2" />
<line x1="301.4" y1="791.57" x2="305" y2="791.57" stroke="#000" stroke-width="1.5" />
<text x="289.9" y="798.4" font-size="16.0" >8</text>
<line x1="302.5" y1="780.73" x2="305" y2="780.73" stroke="#000" stroke-width="1.2" />
<line x1="301.4" y1="769.88" x2="305" y2="769.88" stroke="#000" stroke-width="1.5" />
<text x="281.1" y="776.7" font-size="16.0" >10</text>
<line x1="302.5" y1="759.04" x2="305" y2="759.04" stroke="#000" stroke-width="1.2" />
<line x1="301.4" y1="748.2" x2="305" y2="748.2" stroke="#000" stroke-width="1.5" />
<text x="281.1" y="755.0" font-size="16.0" >12</text>
<line x1="407" y1="878.3" x2="407" y2="881.8" stroke="#000" stroke-width="1.4" />
<line x1="509" y1="878.3" x2="509" y2="881.8" stroke="#000" stroke-width="1.4" />
<line x1="334.6" y1="865.2" x2="334.6" y2="866.2" stroke="#000" stroke-width="1.4" />
<line x1="329.1" y1="865.2" x2="340.1" y2="865.2" stroke="#000" stroke-width="1.4" />
<rect x="323.8" y="866.2" width="21.6" height="12.1" fill="#fff" stroke="#000" stroke-width="1.9"/>
<line x1="355.6" y1="834" x2="355.6" y2="834.7" stroke="#000" stroke-width="1.4" />
<line x1="350.1" y1="834" x2="361.1" y2="834" stroke="#000" stroke-width="1.4" />
<rect x="345.4" y="834.7" width="20.4" height="43.6" fill="#c8c8c8" stroke="#000" stroke-width="1.9"/>
<line x1="376.15" y1="839.2" x2="376.15" y2="842" stroke="#000" stroke-width="1.4" />
<line x1="370.65" y1="839.2" x2="381.65" y2="839.2" stroke="#000" stroke-width="1.4" />
<rect x="365.8" y="842" width="20.7" height="36.3" fill="#000" stroke="#000" stroke-width="1.9"/>
<line x1="436.3" y1="865.8" x2="436.3" y2="866.7" stroke="#000" stroke-width="1.4" />
<line x1="430.8" y1="865.8" x2="441.8" y2="865.8" stroke="#000" stroke-width="1.4" />
<rect x="425.8" y="866.7" width="21.0" height="11.6" fill="#fff" stroke="#000" stroke-width="1.9"/>
<line x1="457.15" y1="773" x2="457.15" y2="774.6" stroke="#000" stroke-width="1.4" />
<line x1="451.65" y1="773" x2="462.65" y2="773" stroke="#000" stroke-width="1.4" />
<rect x="446.8" y="774.6" width="20.7" height="103.7" fill="#c8c8c8" stroke="#000" stroke-width="1.9"/>
<line x1="478.55" y1="759.8" x2="478.55" y2="767.4" stroke="#000" stroke-width="1.4" />
<line x1="473.05" y1="759.8" x2="484.05" y2="759.8" stroke="#000" stroke-width="1.4" />
<rect x="467.5" y="767.4" width="22.1" height="110.9" fill="#000" stroke="#000" stroke-width="1.9"/>
<text transform="translate(351.1,737) scale(1.05,1)" font-size="18.6" >Prosaposin</text>
<text x="333.6" y="901.2" font-size="18.6" >MSCV</text>
<text transform="translate(436.6,901.2) scale(1.05,1)" font-size="18.6" >IRF-8</text>
<text transform="translate(261.7,958.8) scale(1.04,1)" font-size="18.6" >IRF-8</text>
<line x1="237" y1="954.2" x2="168.0" y2="971.5" stroke="#000" stroke-width="1.9"/>
<polygon points="152.5,975.4 168.4,964.9 171.5,977.1" fill="#000"/>
<line x1="328.8" y1="953.3" x2="407.0" y2="972.7" stroke="#000" stroke-width="1.9"/>
<polygon points="422.5,976.5 403.5,978.3 406.5,966.1" fill="#000"/>
<rect x="53" y="991.2" width="192.4" height="113.8" fill="none" stroke="#000" stroke-width="1.9"/>
<text transform="translate(87.3,1017.5) scale(1.06,1)" font-size="18.6" >Transcription</text>
<text transform="translate(87.7,1041) scale(1.03,1)" font-size="18.6" >factors</text>
<text x="103.6" y="1064.4" font-size="18.6" >Blimp-1</text>
<text transform="translate(103.6,1086.9) scale(1.03,1)" font-size="18.6" >METS</text>
<rect x="323.3" y="988.6" width="192" height="155.6" fill="none" stroke="#000" stroke-width="1.9"/>
<text transform="translate(337.6,1016.7) scale(1.04,1)" font-size="18.6" >Functional genes</text>
<text transform="translate(337.5,1040) scale(1.04,1)" font-size="18.6" >in macrophage</text>
<text transform="translate(354.2,1063.3) scale(1.04,1)" font-size="18.6" >Cystatin C</text>
<text transform="translate(353.7,1086.5) scale(1.04,1)" font-size="18.6" >Lysozyme M</text>
<text transform="translate(354.2,1109.8) scale(1.04,1)" font-size="18.6" >Cathepsin C</text>
<text transform="translate(353.7,1133.4) scale(1.04,1)" font-size="18.6" >Prosaposin</text>
<line x1="262" y1="1057" x2="305" y2="1057" stroke="#000" stroke-width="1.9" stroke-dasharray="1.5 1.3"/>
<path d="M246.3,1057 L265.2,1050.7 L265.2,1063.3 z M321,1057 L302.3,1050.7 L302.3,1063.3 z" fill="#000"/>
<line x1="151" y1="1111.5" x2="151.0" y2="1128.0" stroke="#000" stroke-width="1.9"/>
<polygon points="151.0,1144.0 144.7,1126.0 157.3,1126.0" fill="#000"/>
<rect x="43.7" y="1152" width="212.6" height="57.6" fill="none" stroke="#000" stroke-width="1.9"/>
<text transform="translate(55.5,1173.8) scale(1.05,1)" font-size="18.6" >c-Myc and other</text>
<text transform="translate(55.5,1197) scale(1.05,1)" font-size="18.6" >growth control genes</text>
<line x1="151" y1="1215.4" x2="151.0" y2="1232.0" stroke="#000" stroke-width="1.9"/>
<polygon points="151.0,1248.0 144.7,1230.0 157.3,1230.0" fill="#000"/>
<text transform="translate(86.9,1270.8) scale(1.05,1)" font-size="18.6" >Growth arrest</text>
<line x1="235.4" y1="1263.6" x2="330.0" y2="1263.6" stroke="#000" stroke-width="1.9"/>
<polygon points="346.0,1263.6 328.0,1269.9 328.0,1257.3" fill="#000"/>
<line x1="422.7" y1="1152.6" x2="422.7" y2="1169.4" stroke="#000" stroke-width="1.9"/>
<polygon points="422.7,1185.4 416.4,1167.4 429.0,1167.4" fill="#000"/>
<text transform="translate(328.0,1207.6) scale(1.04,1)" font-size="18.6" >Cellular functionality</text>
<line x1="422.7" y1="1216" x2="422.7" y2="1232.8" stroke="#000" stroke-width="1.9"/>
<polygon points="422.7,1248.8 416.4,1230.8 429.0,1230.8" fill="#000"/>
<text transform="translate(359.2,1271) scale(1.04,1)" font-size="18.6" >Differentiation</text>
</svg></body></html>
